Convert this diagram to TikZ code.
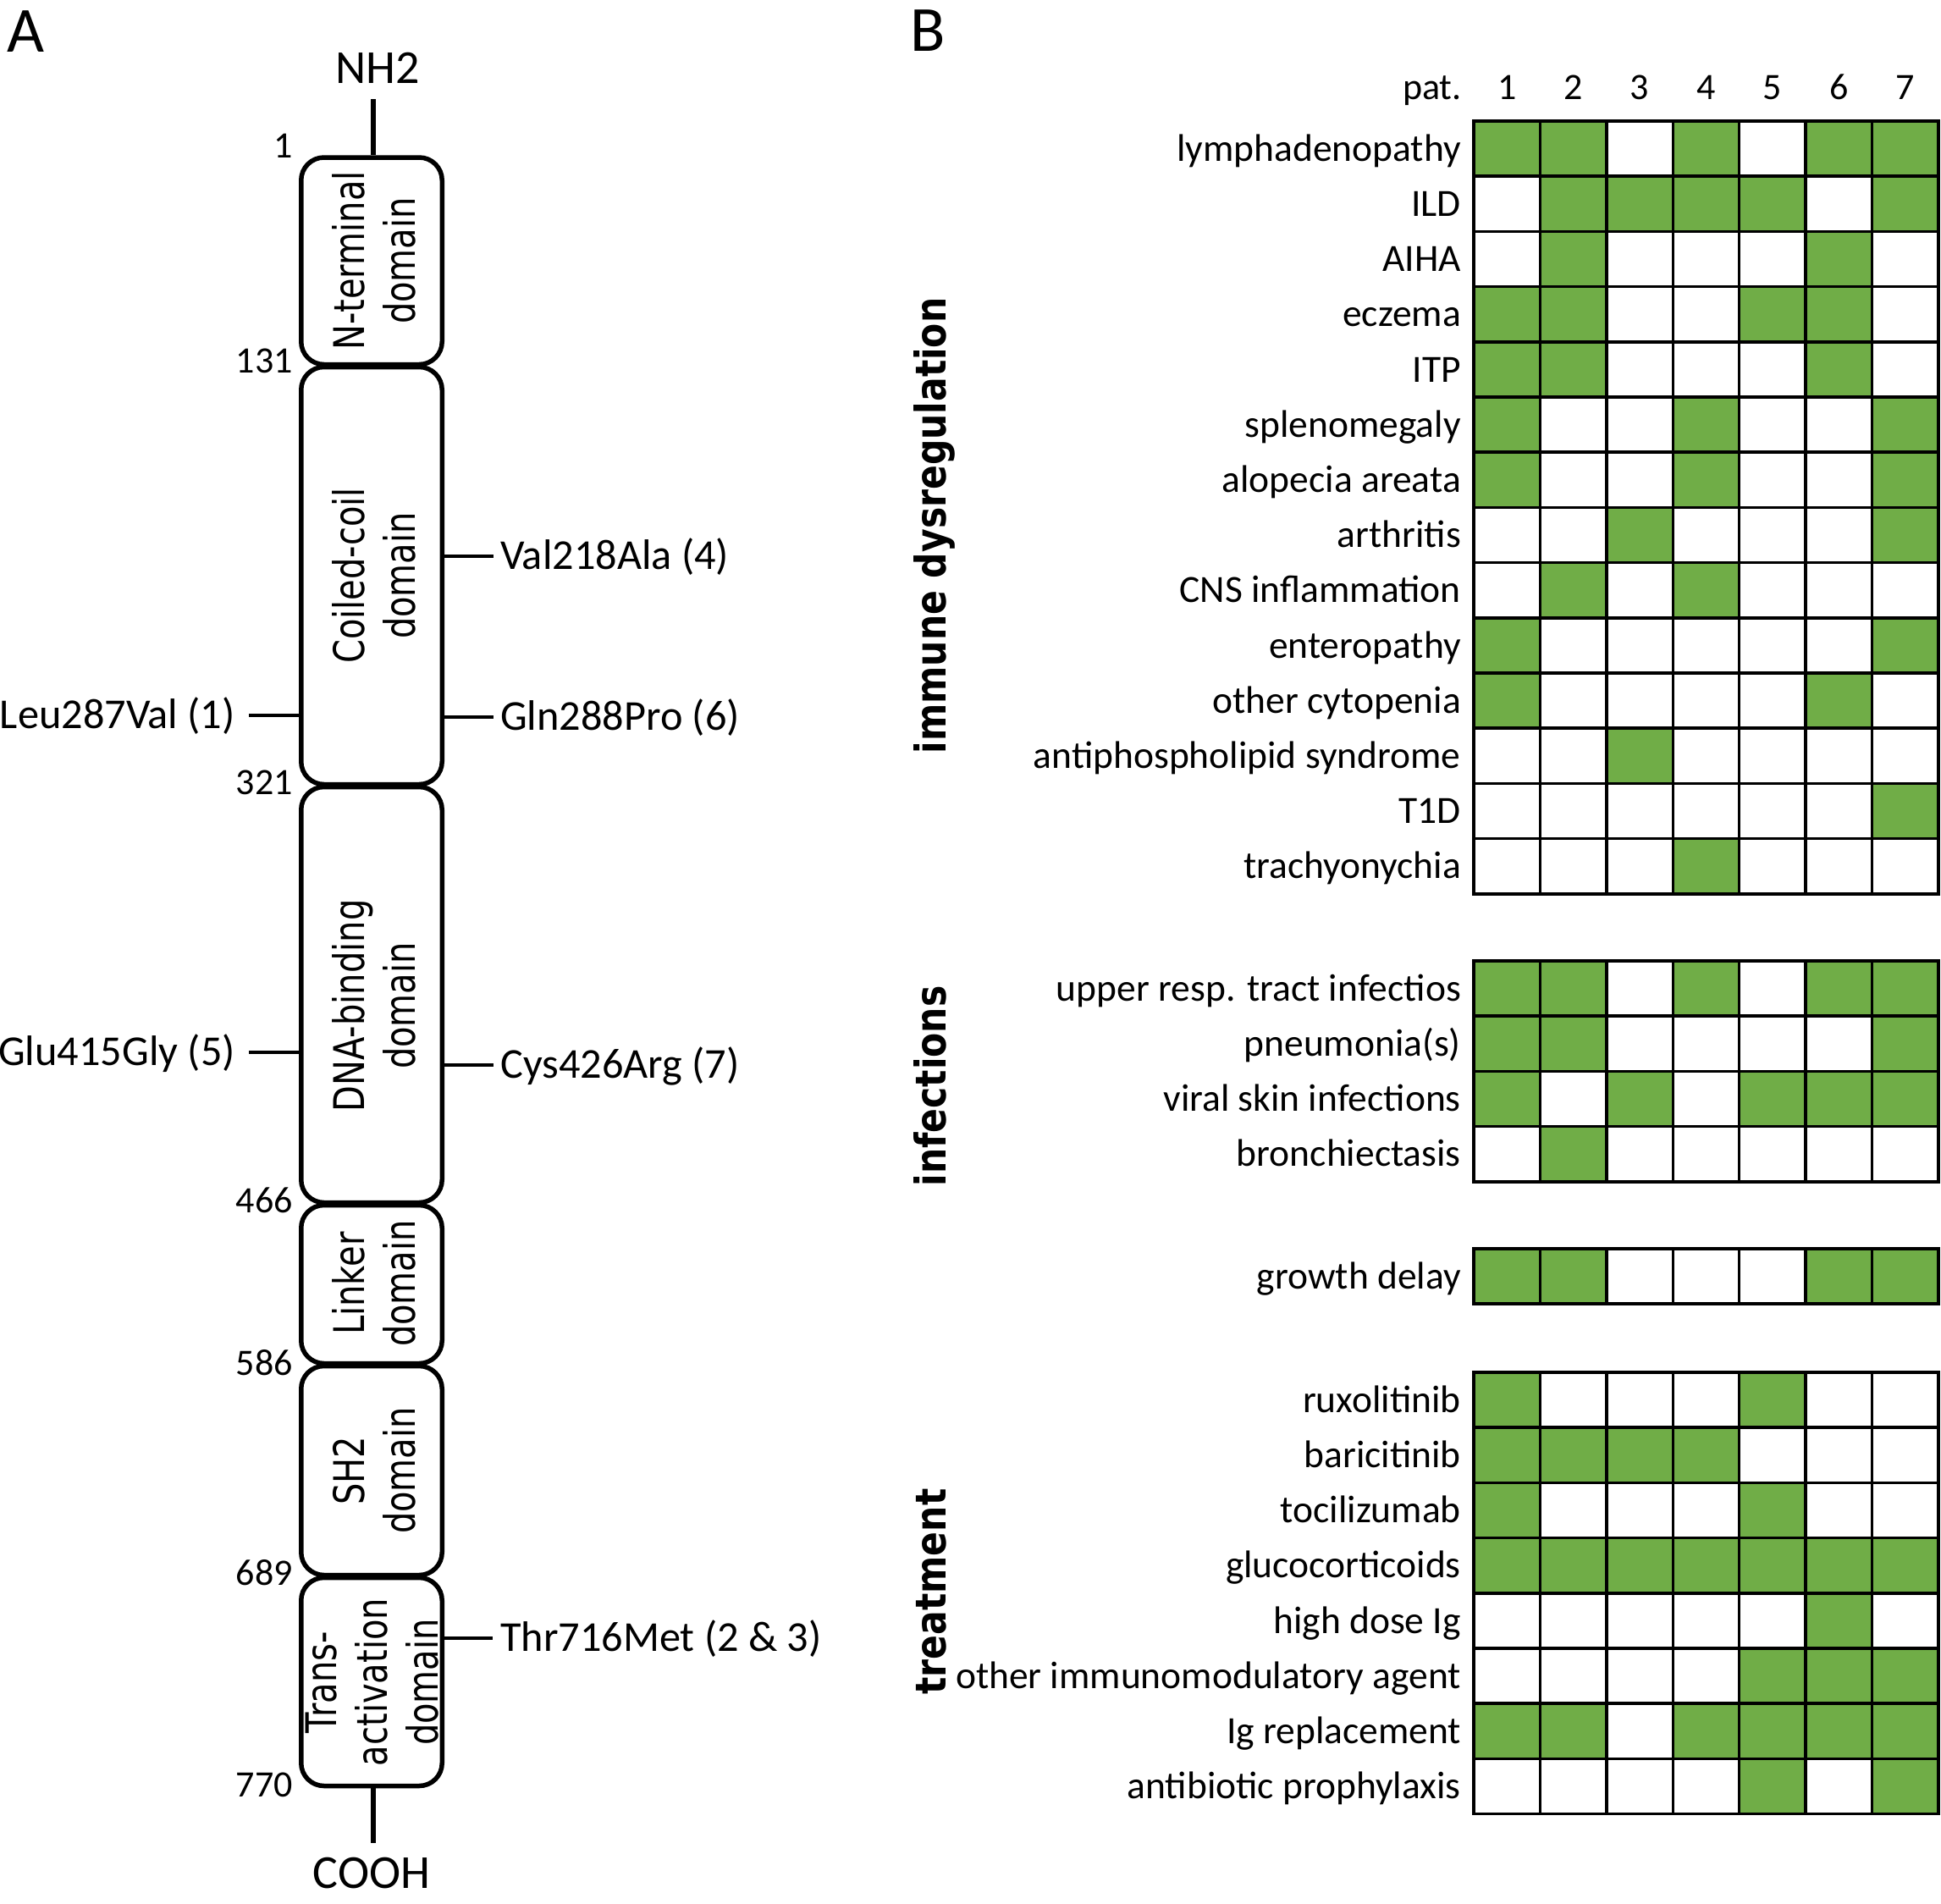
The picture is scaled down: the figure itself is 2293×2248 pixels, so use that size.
\documentclass[tikz,border=0pt]{standalone}
\usepackage{fontspec}
\setmainfont{Carlito}
\newfontfamily\domfont[FakeStretch=0.8]{DejaVu Sans}
\newfontfamily\grpfont[FakeStretch=0.85]{DejaVu Sans}
\definecolor{cellgreen}{HTML}{70AD47}
\colorlet{G}{cellgreen}
\colorlet{W}{white}
\tikzset{
  dombox/.style={draw, line width=5.5pt, rounded corners=27pt, minimum width=166.5pt, inner sep=0pt, fill=white},
  domtext/.style={align=center, inner sep=0pt, font=\domfont\fontsize{50}{60}\selectfont},
  grplab/.style={inner sep=0pt, font=\grpfont\bfseries\fontsize{50}{60}\selectfont},
  rowlab/.style={inner sep=0pt, font=\fontsize{45.5}{54}\selectfont},
  mutlab/.style={inner sep=0pt, font=\fontsize{50.3}{60}\selectfont},
  numlab/.style={inner sep=0pt, font=\fontsize{44}{52}\selectfont},
  termlab/.style={inner sep=0pt, font=\fontsize{56}{66}\selectfont},
  panellab/.style={inner sep=0pt, font=\fontsize{76}{90}\selectfont},
  stem/.style={line width=6pt},
  tick/.style={line width=4pt},
  cell/.style={draw=black, line width=3.5pt}
}
\newcommand\gridblock[3]{%
  \foreach \lab/\pat [count=\ri from 0] in {#3} {
    \foreach \v [count=\ci from 0] in \pat {
      \draw[cell, fill=\v] (1741+\ci*78.43, #1+\ri*65.2) rectangle ++(78.43, 65.2);
    }
    \node[rowlab, anchor=base east] (#2-\ri) at (1726, #1+\ri*65.2+32.6+14.6) {\lab};
  }
}
\begin{document}
\begin{tikzpicture}[x=1pt,y=-1pt]
\useasboundingbox[fill=white] (0,0) rectangle (2293,2248);

% ---------------- Panel A ----------------
\node[panellab, anchor=base west] (pA) at (8,62) {A};
\node[termlab, anchor=base] (nh2) at (446,98) {NH2};
\node[termlab, anchor=base] (cooh) at (439,2230) {COOH};

\node[dombox, minimum height=244.5pt] (ntd) at (439,308.25) {};
\node[dombox, minimum height=493pt]   (ccd) at (439,680) {};
\node[dombox, minimum height=491pt]   (dbd) at (439,1175) {};
\node[dombox, minimum height=187pt]   (lkd) at (439,1517) {};
\node[dombox, minimum height=247pt]   (sh2) at (439,1737) {};
\node[dombox, minimum height=246pt]   (tad) at (439,1986.5) {};

\node[domtext, rotate=90] (tntd) at (442,308) {N-terminal\\domain};
\node[domtext, rotate=90] (tccd) at (442,680) {Coiled-coil\\domain};
\node[domtext, rotate=90] (tdbd) at (442,1188) {DNA-binding\\domain};
\node[domtext, rotate=90] (tlkd) at (442,1516) {Linker\\domain};
\node[domtext, rotate=90] (tsh2) at (442,1737) {SH2\\domain};
\node[domtext, rotate=90] (ttad) at (440,1987) {Trans-\\activation\\domain};

\coordinate (nh2end) at (441,117);
\coordinate (coohend) at (441,2177);
\draw[stem] (nh2end) -- (ntd.north -| nh2end);
\draw[stem] (tad.south -| coohend) -- (coohend);

% residue numbers
\node[numlab, anchor=base east] (n1)   at (346,186)  {1};
\node[numlab, anchor=base east] (n131) at (346,440)  {131};
\node[numlab, anchor=base east] (n321) at (346,938)  {321};
\node[numlab, anchor=base east] (n466) at (346,1432) {466};
\node[numlab, anchor=base east] (n586) at (346,1624) {586};
\node[numlab, anchor=base east] (n689) at (346,1872) {689};
\node[numlab, anchor=base east] (n770) at (346,2122) {770};

% mutations
\node[mutlab, anchor=base west] (m4) at (591,672)  {Val218Ala (4)};
\node[mutlab, anchor=base west] (m6) at (591,862)  {Gln288Pro (6)};
\node[mutlab, anchor=base west] (m7) at (591,1273) {Cys426Arg (7)};
\node[mutlab, anchor=base west] (m23) at (591,1950) {Thr716Met (2 \& 3)};
\node[mutlab, anchor=base east] (m1) at (278,860)  {Leu287Val (1)};
\node[mutlab, anchor=base east] (m5) at (278,1258) {Glu415Gly (5)};

\coordinate (c4) at (583,657);
\coordinate (c6) at (583,847);
\coordinate (c7) at (583,1258);
\coordinate (c23) at (582,1935);
\coordinate (c1) at (294,845);
\coordinate (c5) at (294,1243);
\draw[tick] (ccd.east |- c4) -- (c4);
\draw[tick] (ccd.east |- c6) -- (c6);
\draw[tick] (dbd.east |- c7) -- (c7);
\draw[tick] (tad.east |- c23) -- (c23);
\draw[tick] (c1) -- (ccd.west |- c1);
\draw[tick] (c5) -- (dbd.west |- c5);

% ---------------- Panel B ----------------
\node[panellab, anchor=base west] (pB) at (1075,61) {B};
\node[numlab, anchor=base east] (pat) at (1727,117) {pat.};
\foreach \k in {1,...,7} {
  \node[numlab, anchor=base] (col\k) at (1741+\k*78.43-39.2,117) {\k};
}

\gridblock{143}{imm}{
  lymphadenopathy/{G,G,W,G,W,G,G},
  ILD/{W,G,G,G,G,W,G},
  AIHA/{W,G,W,W,W,G,W},
  eczema/{G,G,W,W,G,G,W},
  ITP/{G,G,W,W,W,G,W},
  splenomegaly/{G,W,W,G,W,W,G},
  alopecia areata/{G,W,W,G,W,W,G},
  arthritis/{W,W,G,W,W,W,G},
  CNS inflammation/{W,G,W,G,W,W,W},
  enteropathy/{G,W,W,W,W,W,G},
  other cytopenia/{G,W,W,W,W,G,W},
  antiphospholipid syndrome/{W,W,G,W,W,W,W},
  T1D/{W,W,W,W,W,W,G},
  trachyonychia/{W,W,W,G,W,W,W}}

\gridblock{1135}{inf}{
  upper resp. tract infectios/{G,G,W,G,W,G,G},
  pneumonia(s)/{G,G,W,W,W,W,G},
  viral skin infections/{G,W,G,W,G,G,G},
  bronchiectasis/{W,G,W,W,W,W,W}}

\gridblock{1475}{grw}{
  growth delay/{G,G,W,W,W,G,G}}

\gridblock{1621}{trt}{
  ruxolitinib/{G,W,W,W,G,W,W},
  baricitinib/{G,G,G,G,W,W,W},
  tocilizumab/{G,W,W,W,G,W,W},
  glucocorticoids/{G,G,G,G,G,G,G},
  high dose Ig/{W,W,W,W,W,G,W},
  other immunomodulatory agent/{W,W,W,W,G,G,G},
  Ig replacement/{G,G,W,G,G,G,G},
  antibiotic prophylaxis/{W,W,W,W,G,W,G}}

\node[grplab, rotate=90, anchor=base] (gimm) at (1117,621)  {immune dysregulation};
\node[grplab, rotate=90, anchor=base] (ginf) at (1117,1283) {infections};
\node[grplab, rotate=90, anchor=base] (gtrt) at (1117,1880) {treatment};
\end{tikzpicture}
\end{document}
